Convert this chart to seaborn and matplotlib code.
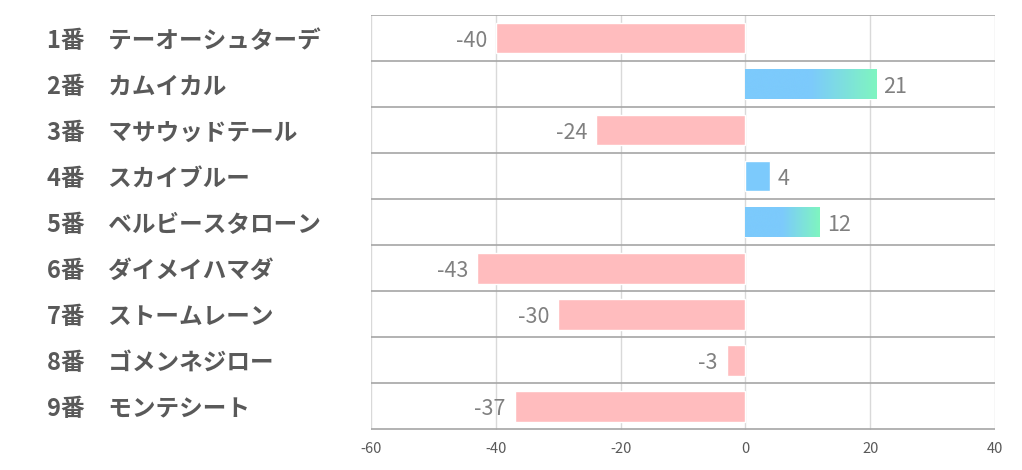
import numpy as np
import pandas as pd
import matplotlib
matplotlib.use("Agg")
import matplotlib.pyplot as plt
import seaborn as sns
from matplotlib.colors import LinearSegmentedColormap

# ---- data ----
numbers = ["1番", "2番", "3番", "4番", "5番", "6番", "7番", "8番", "9番"]
horses = ["テーオーシュターデ", "カムイカル", "マサウッドテール", "スカイブルー",
          "ベルビースタローン", "ダイメイハマダ", "ストームレーン", "ゴメンネジロー", "モンテシート"]
values = [-40, 21, -24, 4, 12, -43, -30, -3, -37]
x_ticks = [-60, -40, -20, 0, 20, 40]

labels = [f"{n}　{h}" for n, h in zip(numbers, horses)]
df = pd.DataFrame({"label": labels, "value": values})

sns.set_theme(style="white")
plt.rcParams["font.family"] = ["Noto Sans CJK JP", "DejaVu Sans"]

fig = plt.figure(figsize=(10.22, 4.70), dpi=100)
ax = fig.add_axes([371 / 1022, 1 - 429.5 / 470, (995 - 371) / 1022, (429.5 - 15) / 470])

pink = "#ffbcbe"
blue = "#7ccafc"
green = "#7ff5c0"
palette = [pink if v < 0 else blue for v in values]

sns.barplot(data=df, x="value", y="label", hue="label", palette=palette,
            legend=False, orient="h", width=0.66, ax=ax, saturation=1)

ax.set_xlim(-60, 40)
ax.set_ylim(len(values) - 0.5, -0.5)
ax.set_xticks(x_ticks)
ax.set_xticklabels([str(t) for t in x_ticks])
ax.set_xlabel("")
ax.set_ylabel("")

# gradient for positive bars
cmap = LinearSegmentedColormap.from_list("bg", [blue, blue, green])
for patch, v in zip(ax.patches, values):
    if v >= 8:
        x0, y0 = patch.get_x(), patch.get_y()
        w, h = patch.get_width(), patch.get_height()
        grad = np.linspace(0, 1, 256).reshape(1, -1)
        im = ax.imshow(grad, extent=[x0, x0 + w, y0 + h, y0], cmap=cmap,
                       aspect="auto", zorder=patch.get_zorder() + 0.1,
                       interpolation="bicubic")
        im.set_clip_path(patch)

# grid lines
for t in x_ticks:
    ax.axvline(t, color="#d9d9d9", lw=1, zorder=0)
for b in np.arange(-0.5, len(values) + 0.5, 1):
    ax.axhline(b, color="#a6a6a6", lw=1.2, zorder=0.5)
for s in ax.spines.values():
    s.set_visible(False)

# value labels
for i, v in enumerate(values):
    if v < 0:
        ax.text(v - 1.4, i + 0.06, str(v), ha="right", va="center",
                fontsize=15.5, color="#808080")
    else:
        ax.text(v + 1.1, i + 0.06, str(v), ha="left", va="center",
                fontsize=15.5, color="#808080")

ax.tick_params(axis="x", labelsize=10.5, colors="#595959", length=0, pad=9)
ax.tick_params(axis="y", length=0, pad=233)
for lbl in ax.get_yticklabels():
    lbl.set_horizontalalignment("left")
    lbl.set_fontsize(17)
    lbl.set_fontweight("bold")
    lbl.set_color("#595959")

fig.savefig("out.png", dpi=100, facecolor="white")
